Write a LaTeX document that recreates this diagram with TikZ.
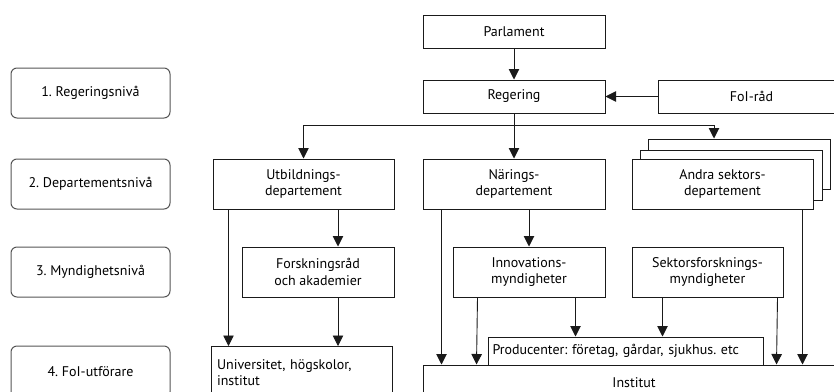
\documentclass[tikz,border=0pt]{standalone}
\usepackage{fontspec}
\setmainfont{PT Sans}
\usetikzlibrary{arrows.meta,calc}
\definecolor{ln}{HTML}{1A1A1A}
\definecolor{lvl}{HTML}{555555}
\frenchspacing
\begin{document}
\begin{tikzpicture}[x=1pt,y=-1pt,
  every node/.style={font=\fontsize{14}{16.5}\selectfont, text=black},
  box/.style={draw=ln, line width=1pt, fill=white, inner sep=0pt, align=center},
  lvlbox/.style={draw=lvl, line width=1pt, rounded corners=6pt, minimum width=159pt, minimum height=50pt, inner sep=0pt},
  arr/.style={draw=ln, line width=0.9pt, -{Triangle[width=10.5pt,length=10.5pt]}},
  ]
\useasboundingbox (0,0) rectangle (834,391);
\clip (0,0) rectangle (834,391);
% level labels
\node[lvlbox] (l1) at (90.5,93) {1. Regeringsnivå};
\node[lvlbox] (l2) at (90.5,184) {2. Departementsnivå};
\node[lvlbox] (l3) at (90.5,272) {3. Myndighetsnivå};
\node[lvlbox, minimum height=52pt] (l4) at (90.5,372) {4. FoI-utförare};
% top
\node[box, minimum width=182pt, minimum height=33pt] (parl) at (514,31.5) {Parlament};
\node[box, minimum width=182pt, minimum height=33pt] (reg) at (514,96.5) {Regering};
\node[box, minimum width=187pt, minimum height=33pt] (folrad) at (751.5,96.5) {FoI-råd};
% departments
\node[box, minimum width=181pt, minimum height=50pt] (utb) at (303.5,184) {Utbildnings-\\departement};
\node[box, minimum width=182pt, minimum height=50pt] (nar) at (514,184) {Närings-\\departement};
\node[box, minimum width=182pt, minimum height=50pt] (andra3) at (739.5,164) {};
\node[box, minimum width=182pt, minimum height=50pt] (andra2) at (731.5,175) {};
\node[box, minimum width=181pt, minimum height=50pt] (andra1) at (722.5,184) {Andra sektors-\\departement};
% authorities
\node[box, minimum width=152pt, minimum height=50pt] (forsk) at (318,272) {Forskningsråd\\och akademier};
\node[box, minimum width=152pt, minimum height=50pt] (innov) at (529,272) {Innovations-\\myndigheter};
\node[box, minimum width=151pt, minimum height=50pt] (sektor) at (707.5,272) {Sektorsforsknings-\\myndigheter};
% performers
\node[box, anchor=north west, minimum width=181pt, minimum height=52pt, text width=170pt, align=left, inner xsep=5.5pt] (univ) at (211,346) {Universitet, högskolor,\\institut};
\node[box, minimum width=275pt, minimum height=28pt, text width=266pt, align=left, inner xsep=4.5pt] (prod) at (625.5,351) {Producenter: företag, gårdar, sjukhus. etc};
\node[box, minimum width=422pt, minimum height=35pt] (inst) at (634,382.5) {Institut};
% connectors
\coordinate (bus) at (515,125);
\draw[arr] (parl) -- (reg);
\draw[arr] (folrad) -- (reg);
\draw[arr] (reg) -- (nar);
\draw[arr] (bus) -| (utb.north);
\draw[arr] (bus) -| ([xshift=66pt]andra3.north west);
\draw[arr] ([xshift=16pt]utb.south west) -- ([xshift=16pt]utb.south west |- univ.north);
\draw[arr] ([xshift=20pt]forsk.north |- utb.south) -- ([xshift=20pt]forsk.north);
\draw[arr] ([xshift=20pt]forsk.south) -- ([xshift=20pt]forsk.south |- univ.north);
\draw[arr] ([xshift=19pt]nar.south west) -- ([xshift=19pt]nar.south west |- inst.north);
\draw[arr] (innov.north |- nar.south) -- (innov.north);
\draw[arr] ([xshift=25pt]innov.south west) -- ([xshift=24pt]innov.south west |- inst.north);
\draw[arr] ([xshift=-30pt]innov.south east) -- ([xshift=-30pt]innov.south east |- prod.north);
\draw[arr] ([xshift=31pt]sektor.south west) -- ([xshift=31pt]sektor.south west |- prod.north);
\draw[arr] ([xshift=-6pt]sektor.south east) -- ([xshift=-7pt]sektor.south east |- inst.north);
\draw[arr] ([xshift=-11pt]andra1.south east) -- ([xshift=-11pt]andra1.south east |- inst.north);
\end{tikzpicture}
\end{document}
